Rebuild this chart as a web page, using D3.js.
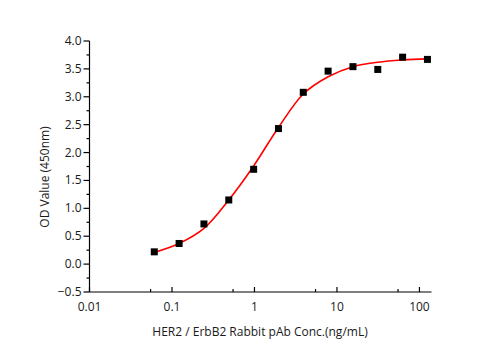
<!DOCTYPE html>
<html>
<head>
<meta charset="utf-8">
<script src="https://cdn.jsdelivr.net/npm/d3@7"></script>
<style>
  body { margin: 0; background: #fff; }
  svg { display: block; font-family: "Open Sans", sans-serif; }
</style>
</head>
<body>
<svg id="chart" width="501" height="350"></svg>
<script>
// measured points
const conc = [0.061, 0.122, 0.244, 0.488, 0.977, 1.953, 3.906, 7.81, 15.63, 31.25, 62.5, 125];
const od = [0.22, 0.37, 0.72, 1.15, 1.70, 2.43, 3.08, 3.46, 3.54, 3.49, 3.71, 3.67];

// fitted curve
const fitConc = [0.061, 0.122, 0.244, 0.488, 0.977, 1.953, 3.906, 7.81, 15.63, 31.25, 62.5, 125];
const fitOd = [0.21, 0.37, 0.64, 1.15, 1.76, 2.45, 3.05, 3.36, 3.54, 3.62, 3.66, 3.68];

const xTicks = [0.01, 0.1, 1, 10, 100];
const xMinor = [0.055, 0.55, 5.5, 55];
const yTicks = [-0.5, 0.0, 0.5, 1.0, 1.5, 2.0, 2.5, 3.0, 3.5, 4.0];
const yMinor = [-0.25, 0.25, 0.75, 1.25, 1.75, 2.25, 2.75, 3.25, 3.75];

const svg = d3.select('#chart');

const x = d3.scaleLog().domain([0.01, 140]).range([89.5, 431.5]);
const y = d3.scaleLinear().domain([-0.5, 4.0]).range([292, 41]);

// x axis, ticks point up into the plot
const gx = svg.append('g').attr('transform', 'translate(0,292)');
gx.append('line')
	.attr('x1', x.range()[0]).attr('x2', x.range()[1])
	.attr('stroke', '#000').attr('stroke-width', 1.2);
gx.selectAll('.xmaj').data(xTicks).enter().append('line')
	.attr('x1', d => x(d)).attr('x2', d => x(d))
	.attr('y1', 0).attr('y2', -5)
	.attr('stroke', '#000').attr('stroke-width', 1.2);
gx.selectAll('.xmin').data(xMinor).enter().append('line')
	.attr('x1', d => x(d)).attr('x2', d => x(d))
	.attr('y1', 0).attr('y2', -3)
	.attr('stroke', '#000').attr('stroke-width', 1.2);
gx.selectAll('text').data(xTicks).enter().append('text')
	.attr('x', d => x(d)).attr('y', 19)
	.attr('text-anchor', 'middle')
	.attr('font-size', 12).attr('fill', '#1a1a1a')
	.text(d => d3.format('~g')(d));

// y axis, ticks point out
const gy = svg.append('g').attr('transform', 'translate(89.5,0)');
gy.append('line')
	.attr('y1', y.range()[0]).attr('y2', y.range()[1])
	.attr('stroke', '#000').attr('stroke-width', 1.2);
gy.selectAll('.ymaj').data(yTicks).enter().append('line')
	.attr('y1', d => y(d)).attr('y2', d => y(d))
	.attr('x1', 0).attr('x2', -6)
	.attr('stroke', '#000').attr('stroke-width', 1.2);
gy.selectAll('.ymin').data(yMinor).enter().append('line')
	.attr('y1', d => y(d)).attr('y2', d => y(d))
	.attr('x1', 0).attr('x2', -3)
	.attr('stroke', '#000').attr('stroke-width', 1.2);
gy.selectAll('text').data(yTicks).enter().append('text')
	.attr('x', -8).attr('y', d => y(d) + 4)
	.attr('text-anchor', 'end')
	.attr('font-size', 12).attr('fill', '#1a1a1a')
	.text(d => d3.format('.1f')(d));

// axis titles
svg.append('text')
	.attr('x', 260).attr('y', 336)
	.attr('text-anchor', 'middle')
	.attr('font-size', 12).attr('fill', '#1a1a1a')
	.text('HER2 / ErbB2 Rabbit pAb Conc.(ng/mL)');
svg.append('text')
	.attr('transform', 'translate(49,177) rotate(-90)')
	.attr('text-anchor', 'middle')
	.attr('font-size', 12).attr('fill', '#1a1a1a')
	.text('OD Value (450nm)');

// fitted line
const fit = fitConc.map((c, i) => [c, fitOd[i]]);
svg.append('path')
	.datum(fit)
	.attr('fill', 'none')
	.attr('stroke', '#ff0000')
	.attr('stroke-width', 1.6)
	.attr('d', d3.line().x(d => x(d[0])).y(d => y(d[1])).curve(d3.curveCatmullRom.alpha(0.5)));

// points
const pts = conc.map((c, i) => [c, od[i]]);
svg.selectAll('.pt').data(pts).enter().append('rect')
	.attr('class', 'pt')
	.attr('x', d => x(d[0]) - 3.5).attr('y', d => y(d[1]) - 3.5)
	.attr('width', 7).attr('height', 7)
	.attr('fill', '#000');
</script>
</body>
</html>
